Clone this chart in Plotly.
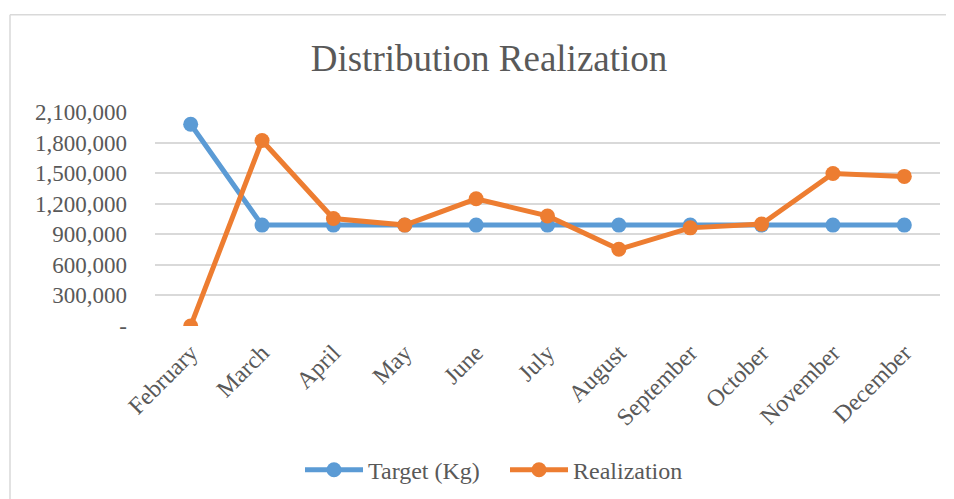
import plotly.graph_objects as go

months = ["February", "March", "April", "May", "June", "July", "August",
          "September", "October", "November", "December"]
target = [1980000, 990000, 990000, 990000, 990000, 990000, 990000,
          990000, 990000, 990000, 990000]
realization = [0, 1820000, 1055000, 990000, 1248000, 1080000, 753000,
               963000, 1000000, 1497000, 1468000]
ytick_vals = [0, 300000, 600000, 900000, 1200000, 1500000, 1800000, 2100000]
ytick_text = ["-", "300,000", "600,000", "900,000", "1,200,000", "1,500,000",
              "1,800,000", "2,100,000"]

FONT = "Liberation Serif, Times New Roman, serif"
GRAY = "#595959"

W, H = 946, 491
ML, MT, PW, PH = 147, 104, 785, 213.7
MR = W - ML - PW
MB = H - MT - PH

fig = go.Figure()
fig.add_trace(go.Scatter(x=months, y=target, name="Target (Kg)", mode="lines+markers",
                         line=dict(color="#5B9BD5", width=5),
                         marker=dict(size=15, color="#5B9BD5")))
fig.add_trace(go.Scatter(x=months, y=realization, name="Realization", mode="lines+markers",
                         line=dict(color="#ED7D31", width=5),
                         marker=dict(size=15, color="#ED7D31")))

fig.update_layout(
    width=W, height=H,
    paper_bgcolor="white", plot_bgcolor="white",
    margin=dict(l=ML, r=MR, t=MT, b=MB, pad=0, autoexpand=False),
    font=dict(family=FONT, color=GRAY),
    title=dict(text="Distribution Realization", x=(489 - 8) / W, xanchor="center",
               y=1 - 50 / H, yanchor="middle",
               font=dict(family=FONT, size=37, color=GRAY)),
    showlegend=True,
    legend=dict(orientation="h", x=(300 - 155) / PW, xanchor="left", y=-(470 - 326) / PH,
                yanchor="middle", font=dict(family=FONT, size=24, color=GRAY),
                itemwidth=58, entrywidth=132, entrywidthmode="pixels",
                traceorder="normal"),
    xaxis=dict(type="category", tickangle=-45, showgrid=False, showline=False,
               ticks="", ticklabelstandoff=7, automargin=False,
               tickfont=dict(family=FONT, size=24, color=GRAY),
               range=[-0.5, 10.5]),
    yaxis=dict(range=[0, 2100000], tickvals=ytick_vals, ticktext=ytick_text,
               showgrid=True, gridcolor="#D9D9D9", gridwidth=1.5, zeroline=False,
               showline=False, ticks="", ticklabelstandoff=27, automargin=False,
               tickfont=dict(family=FONT, size=23, color=GRAY)),
    shapes=[
        dict(type="line", xref="paper", yref="paper",
             x0=(2 - ML) / PW, x1=(2 - ML) / PW,
             y0=1 + 97 / PH, y1=-MB / PH - 0.2,
             line=dict(color="#D9D9D9", width=1.5)),
        dict(type="line", xref="paper", yref="paper",
             x0=(2 - ML) / PW, x1=1.3,
             y0=1 + 97 / PH, y1=1 + 97 / PH,
             line=dict(color="#D9D9D9", width=1.5)),
    ],
)

fig.write_html("out.html")
